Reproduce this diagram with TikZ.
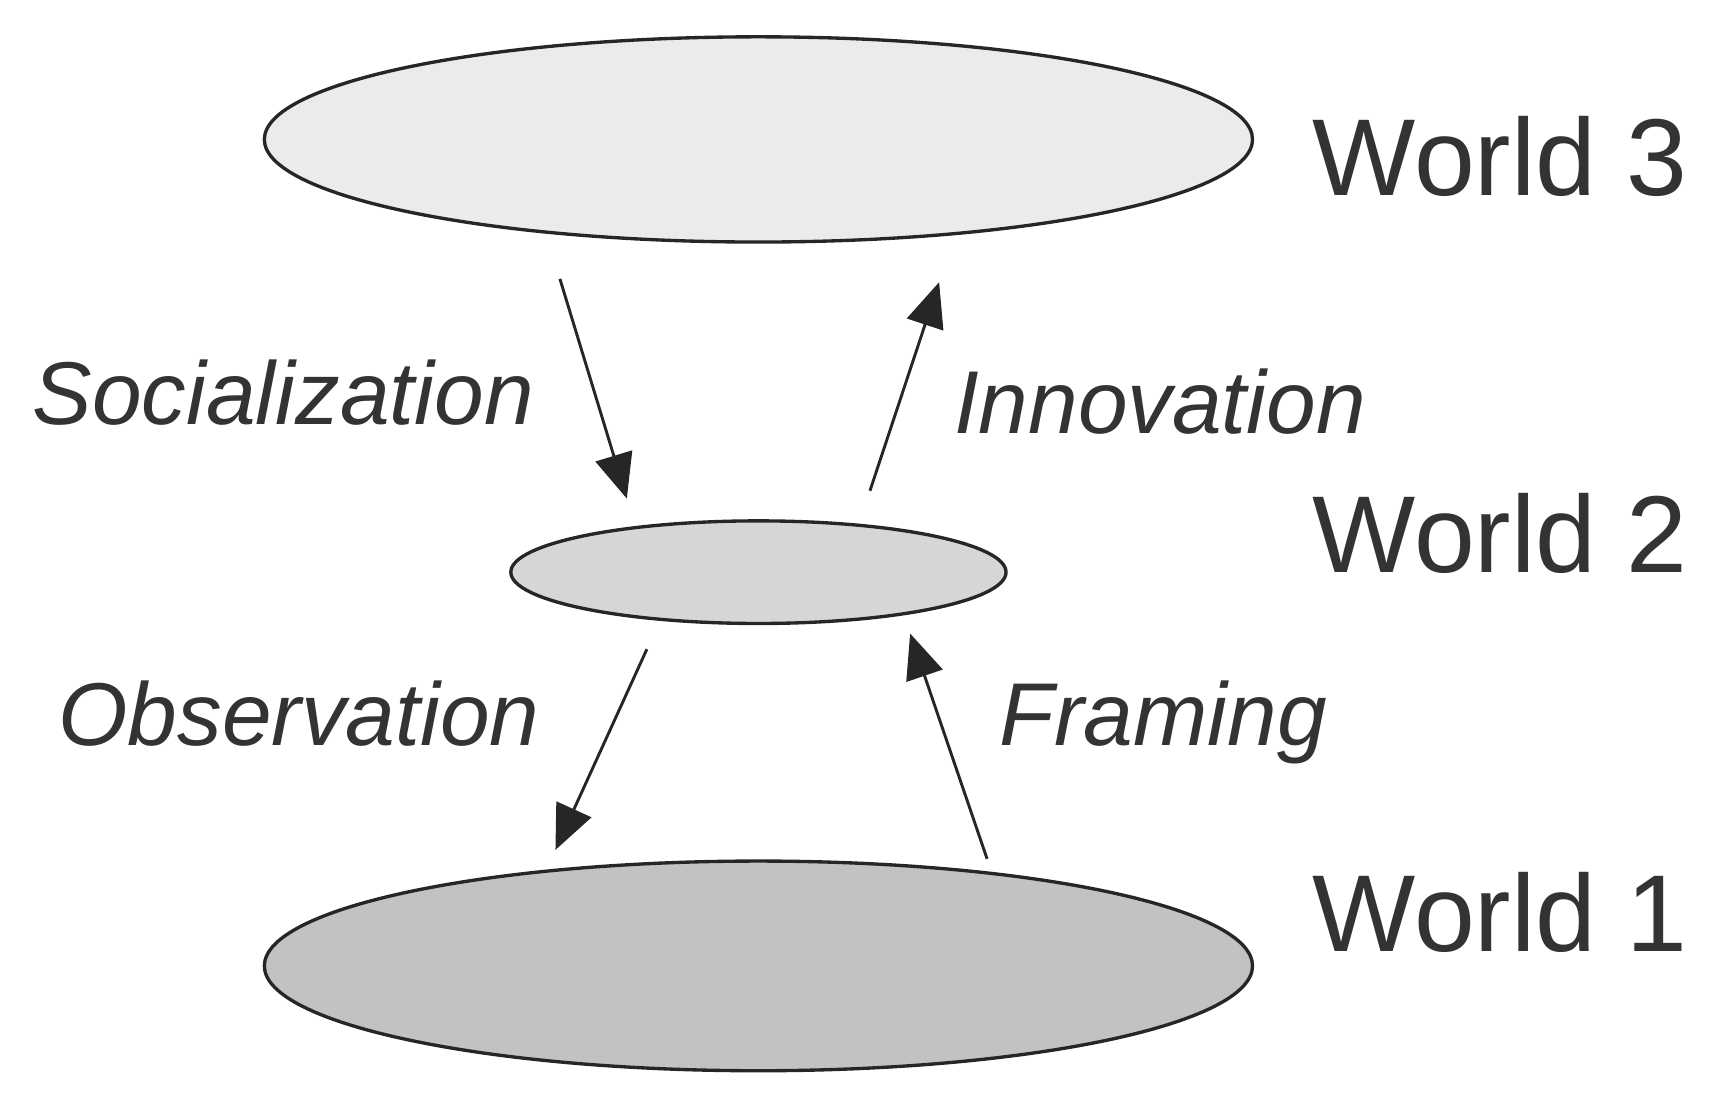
\documentclass[tikz,border=0pt]{standalone}
\usepackage{fontspec}
\setmainfont{Liberation Sans}
\usetikzlibrary{arrows.meta}
\begin{document}
\begin{tikzpicture}[x=0.5pt,y=-0.5pt,
  world/.style={draw=black!85,line width=1.5pt},
  wlabel/.style={text=black!80,font=\fontsize{49}{58}\selectfont,anchor=west},
  alabel/.style={text=black!80,font=\itshape\fontsize{40}{48}\selectfont},
  arr/.style={draw=black!85,line width=1.3pt,-{Triangle[length=20pt,width=17pt]}}]
\useasboundingbox (0,0) rectangle (1552,982);
\fill[black!8,world] (680,125) ellipse [x radius=443,y radius=92];
\fill[black!16,world] (680,513) ellipse [x radius=222,y radius=46];
\fill[black!24,world] (680,866) ellipse [x radius=443,y radius=94];
\node[wlabel] (l3) at (1170,140) {World 3};
\node[wlabel] (l2) at (1170,478) {World 2};
\node[wlabel] (l1) at (1170,818) {World 1};
\coordinate (s1) at (502,250); \coordinate (s2) at (562,447);
\coordinate (i1) at (780,440); \coordinate (i2) at (842,253);
\coordinate (o1) at (580,582); \coordinate (o2) at (498,762);
\coordinate (f1) at (885,770); \coordinate (f2) at (816,568);
\draw[arr] (s1) -- (s2);
\draw[arr] (i1) -- (i2);
\draw[arr] (o1) -- (o2);
\draw[arr] (f1) -- (f2);
\node[alabel] (sl) at (254,352) {Socialization};
\node[alabel] (il) at (1040,360) {Innovation};
\node[alabel] (ol) at (268,640) {Observation};
\node[alabel] (fl) at (1043,648) {Framing};
\end{tikzpicture}
\end{document}
